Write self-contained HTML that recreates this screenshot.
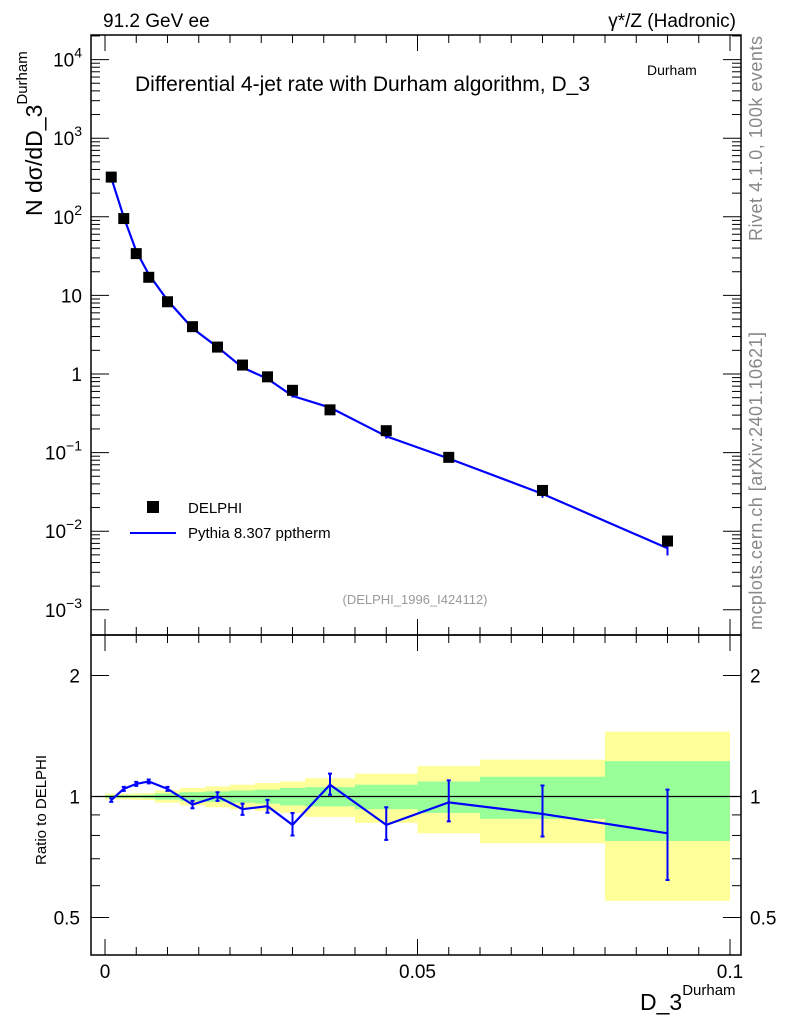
<!DOCTYPE html>
<html><head><meta charset="utf-8"><style>
html,body{margin:0;padding:0;background:#fff;}
svg{display:block;font-family:"Liberation Sans",sans-serif;}
</style></head><body>
<svg id="c" width="786" height="1024" viewBox="0 0 786 1024" xmlns="http://www.w3.org/2000/svg">
<text x="103" y="27" font-size="19">91.2 GeV ee</text>
<text x="736" y="27" font-size="19" text-anchor="end">γ*/Z (Hadronic)</text>
<text x="135" y="91" font-size="21" textLength="455">Differential 4-jet rate with Durham algorithm, D_3</text>
<text x="647" y="75" font-size="14">Durham</text>
<text transform="translate(762,241) rotate(-90)" font-size="18" textLength="205" fill="#888">Rivet 4.1.0,  100k events</text>
<text transform="translate(762,630) rotate(-90)" font-size="18" textLength="298" fill="#888">mcplots.cern.ch [arXiv:2401.10621]</text>
<text transform="translate(42,216) rotate(-90)" font-size="23">N  dσ/dD_3<tspan dy="-15" font-size="15">Durham</tspan></text>
<text transform="translate(46,865) rotate(-90)" font-size="15">Ratio to DELPHI</text>
<text x="640" y="1010" font-size="23">D_3<tspan dy="-15" font-size="15">Durham</tspan></text>
<text x="415" y="604" font-size="13" fill="#999" text-anchor="middle">(DELPHI_1996_I424112)</text>
<rect x="147" y="501" width="12" height="12" fill="#000"/>
<text x="188" y="513" font-size="15">DELPHI</text>
<line x1="130" y1="533" x2="176" y2="533" stroke="#0000ff" stroke-width="2"/>
<text x="188" y="538" font-size="15">Pythia 8.307 pptherm</text>
<g id="g"></g>
</svg>
<script>
const xPoints=[0.001,0.003,0.005,0.007,0.01,0.014,0.018,0.022,0.026,0.03,0.036,0.045,0.055,0.07,0.09];
const binEdges=[0,0.002,0.004,0.006,0.008,0.012,0.016,0.020,0.024,0.028,0.032,0.04,0.05,0.06,0.08,0.1];
const dataValues=[320,95,34,17,8.3,4.0,2.2,1.3,0.92,0.62,0.35,0.19,0.087,0.033,0.0075];
const mcRatio=[0.98,1.045,1.075,1.09,1.045,0.955,1.0,0.93,0.946,0.85,1.07,0.85,0.967,0.905,0.81];
const mcRatioErrUp=[0.01,0.012,0.012,0.012,0.012,0.02,0.025,0.03,0.035,0.06,0.07,0.09,0.13,0.16,0.23];
const mcRatioErrDn=[0.01,0.012,0.012,0.012,0.012,0.02,0.025,0.03,0.035,0.05,0.06,0.07,0.1,0.11,0.19];
const bandInner=[0.008,0.008,0.008,0.01,0.018,0.025,0.03,0.035,0.04,0.05,0.055,0.07,0.09,0.12,0.225];
const bandOuter=[0.016,0.016,0.018,0.02,0.035,0.05,0.06,0.07,0.08,0.09,0.11,0.14,0.19,0.235,0.45];
const mainTickExps=[-3,-2,-1,0,1,2,3,4];
const xTickLabels=["0","0.05","0.1"];

const NS="http://www.w3.org/2000/svg";
const g=document.getElementById('g');
const L=91,R=741,T=35,M=635,B=955;
const X=v=>105+v*6250;
const Y=v=>374-78.6*Math.log10(v);
const YR=v=>796.5-121*Math.log2(v);
function mk(t,a,p){const e=document.createElementNS(NS,t);for(const k in a)e.setAttribute(k,a[k]);(p||g).appendChild(e);return e;}

for(let i=0;i<bandOuter.length;i++){
  const x0=X(binEdges[i]),x1=X(binEdges[i+1]);
  const o=mk('rect',{x:x0,y:YR(1+bandOuter[i]),width:x1-x0,height:YR(1-bandOuter[i])-YR(1+bandOuter[i]),fill:'#ffff99'});
  
  
  const n=mk('rect',{x:x0,y:YR(1+bandInner[i]),width:x1-x0,height:YR(1-bandInner[i])-YR(1+bandInner[i]),fill:'#99ff99'});
  
  
}
const ref=mk('line',{x1:L,x2:R,y1:YR(1),y2:YR(1),stroke:'#000','stroke-width':1.3});



const f1=mk('rect',{x:L,y:T,width:R-L,height:M-T,fill:'none',stroke:'#000','stroke-width':1.5});


const f2=mk('rect',{x:L,y:M,width:R-L,height:B-M,fill:'none',stroke:'#000','stroke-width':1.5});



for(let k=0;k<=20;k++){const v=k*0.005;const x=X(v);if(x>R)break;const len=k%10==0?16:8;
  [[T,1],[M,-1],[M,1],[B,-1]].forEach(([y,d])=>{mk('line',{x1:x,x2:x,y1:y,y2:y+d*len,stroke:'#000','stroke-width':1});});}
xTickLabels.forEach((s,i)=>{const t=mk('text',{x:X(i*0.05),y:978,'font-size':19,'text-anchor':'middle'});t.textContent=s;
  
  });

for(let d=-3;d<=4;d++){for(let m=1;m<10;m++){const v=m*Math.pow(10,d);const y=Y(v);if(y<T||y>M)continue;const len=m==1?18:9;
  mk('line',{x1:L,x2:L+len,y1:y,y2:y,stroke:'#000'});mk('line',{x1:R,x2:R-len,y1:y,y2:y,stroke:'#000'});}}
mainTickExps.forEach(e=>{
  const y=Y(Math.pow(10,e))+7;
  const t=mk('text',{x:82,y:y,'font-size':19,'text-anchor':'end'});
  
  
  if(e==0)t.textContent='1';else if(e==1)t.textContent='10';
  else{t.textContent='10';const s=mk('tspan',{dy:-9,'font-size':14},t);s.textContent=e<0?'−'+(-e):String(e);}
});
[0.5,0.6,0.7,0.8,0.9,1,2].forEach(v=>{const y=YR(v);const maj=(v==0.5||v==1||v==2);const len=maj?18:9;
  mk('line',{x1:L,x2:L+len,y1:y,y2:y,stroke:'#000'});mk('line',{x1:R,x2:R-len,y1:y,y2:y,stroke:'#000'});
  if(maj){[[80,'end'],[750,'start']].forEach(([x,a])=>{const t=mk('text',{x:x,y:y+7,'font-size':19,'text-anchor':a});t.textContent=String(v);
    
    });}});

const mcVals=dataValues.map((v,i)=>v*mcRatio[i]);
const pl=mk('polyline',{points:xPoints.map((x,i)=>X(x)+','+Y(mcVals[i])).join(' '),fill:'none',stroke:'#0000ff','stroke-width':2.2});


xPoints.forEach((x,i)=>{
  const e=mk('line',{x1:X(x),x2:X(x),y1:Y(mcVals[i]*(1+mcRatioErrUp[i])),y2:Y(mcVals[i]*(1-mcRatioErrDn[i])),stroke:'#0000ff','stroke-width':2});
  
  
  const r=mk('rect',{x:X(x)-5.5,y:Y(dataValues[i])-5.5,width:11,height:11,fill:'#000'});
  
  
});
const rl=mk('polyline',{points:xPoints.map((x,i)=>X(x)+','+YR(mcRatio[i])).join(' '),fill:'none',stroke:'#0000ff','stroke-width':2.2});


xPoints.forEach((x,i)=>{const x0=X(x),y1=YR(mcRatio[i]+mcRatioErrUp[i]),y2=YR(mcRatio[i]-mcRatioErrDn[i]);
  const e=mk('path',{d:`M${x0},${y1}V${y2}M${x0-2},${y1}h4M${x0-2},${y2}h4`,stroke:'#0000ff','stroke-width':2,fill:'none'});
  
  });
</script>
</body></html>
